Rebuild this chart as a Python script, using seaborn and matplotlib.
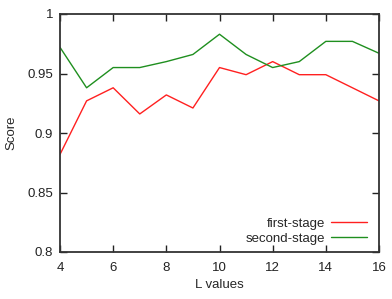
import pandas as pd
import seaborn as sns
import matplotlib.pyplot as plt

# values
l_values = [4, 5, 6, 7, 8, 9, 10, 11, 12, 13, 14, 15, 16]
first_stage = [0.882, 0.927, 0.938, 0.916, 0.932, 0.921, 0.955, 0.949, 0.960, 0.949, 0.949, 0.938, 0.927]
second_stage = [0.972, 0.938, 0.955, 0.955, 0.960, 0.966, 0.983, 0.966, 0.955, 0.960, 0.977, 0.977, 0.967]
series_names = ['first-stage', 'second-stage']
x_ticks = [4, 6, 8, 10, 12, 14, 16]
y_ticks = [0.8, 0.85, 0.9, 0.95, 1.0]
y_labels = ['0.8', '0.85', '0.9', '0.95', '1']

df = pd.DataFrame({'L': l_values * 2,
                   'Score': first_stage + second_stage,
                   'stage': [series_names[0]] * len(l_values) + [series_names[1]] * len(l_values)})

sns.set_style('ticks')
plt.rcParams['font.family'] = ['Liberation Sans', 'DejaVu Sans']

fig = plt.figure(figsize=(3.92, 2.99), dpi=100)
ax = fig.add_axes([60 / 392, 47 / 299, 319 / 392, 238 / 299])

sns.lineplot(data=df, x='L', y='Score', hue='stage',
             palette={'first-stage': '#ff2020', 'second-stage': '#1f8f1f'},
             linewidth=1.0, ax=ax)

ax.set_xlim(4, 16)
ax.set_ylim(0.8, 1.0)
ax.set_xticks(x_ticks)
ax.set_yticks(y_ticks)
ax.set_yticklabels(y_labels)
ax.tick_params(direction='in', length=5, width=1, labelsize=9.5, colors='#222222',
               top=True, right=True)
ax.tick_params(axis='x', pad=7)
ax.tick_params(axis='y', pad=5)
for sp in ax.spines.values():
    sp.set_linewidth(1.3)
    sp.set_color('#333333')

ax.set_xlabel('L values', fontsize=9.5, labelpad=4)
ax.set_ylabel('Score', fontsize=9.5, labelpad=7)

ax.legend(loc='lower right', frameon=False, markerfirst=False, fontsize=9.5,
          handlelength=2.7, handletextpad=0.5, labelspacing=0.2,
          borderaxespad=0.15, bbox_to_anchor=(0.985, 0.0))

plt.savefig('out.png', dpi=100)
